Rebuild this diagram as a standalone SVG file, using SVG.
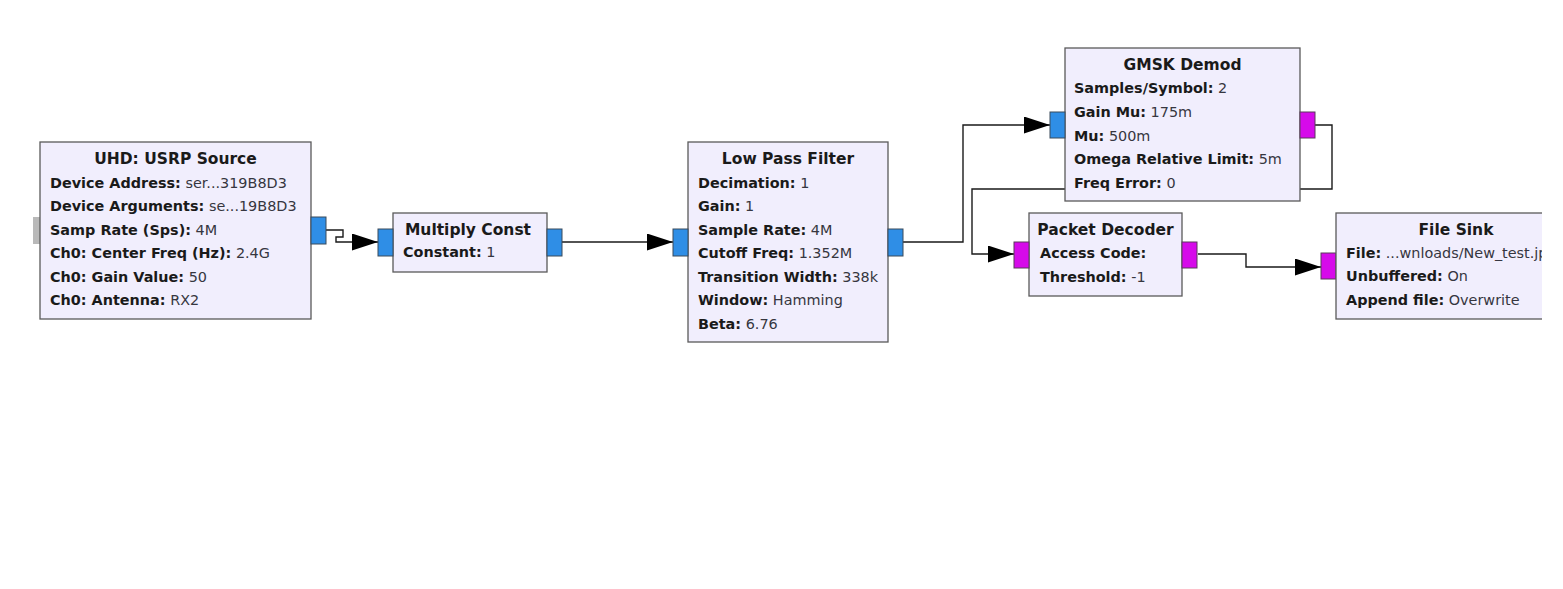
<svg xmlns="http://www.w3.org/2000/svg" width="1563" height="589" viewBox="0 0 1563 589">
  <defs>
    <style>
      .blk { fill: #F1EEFD; stroke: #5a5a5a; stroke-width: 1.3; }
      .pc { fill: #2F8EE6; stroke: #3a4a5a; stroke-width: 1; }
      .pb { fill: #D60AEA; stroke: #5a3a5a; stroke-width: 1; }
      .pm { fill: #B9B9B9; stroke: none; }
      .ttl { font-family: "DejaVu Sans", sans-serif; font-size: 15.5px; font-weight: bold; fill: #1a1a1a; text-anchor: middle; }
      .prm { font-family: "DejaVu Sans", sans-serif; font-size: 14.4px; fill: #363640; }
      .prm .k { font-weight: bold; fill: #1a1a1a; }
      .wire { fill: none; stroke: #1a1a1a; stroke-width: 1.4; }
    </style>
    <marker id="arr" markerUnits="userSpaceOnUse" markerWidth="27" markerHeight="18" refX="26" refY="8.5" orient="auto">
      <path d="M0,0 L26,8.5 L0,17 z" fill="#000"/>
    </marker>
    <clipPath id="viewEdge">
      <rect x="0" y="0" width="1542" height="589"/>
    </clipPath>
  </defs>

  <rect x="0" y="0" width="1563" height="589" fill="#ffffff"/>

  <!-- connections between block ports -->
  <g id="connectors">
    <path class="wire" marker-end="url(#arr)" d="M326,230 H343 V237 H336 V242 H378"/>
    <path class="wire" marker-end="url(#arr)" d="M561,242 H673"/>
    <path class="wire" marker-end="url(#arr)" d="M903,242 H963 V125 H1050"/>
    <path class="wire" marker-end="url(#arr)" d="M1315,125 H1332 V189 H972 V254 H1014"/>
    <path class="wire" marker-end="url(#arr)" d="M1198,254 H1246 V267 H1321"/>
  </g>

  <g id="usrp_source">
    <rect class="pm" x="33" y="217" width="7" height="27"/>
    <rect class="blk" x="40" y="142" width="271" height="177"/>
    <rect class="pc" x="311" y="217" width="15" height="27"/>
    <text class="ttl" x="175.5" y="164">UHD: USRP Source</text>
    <text class="prm" x="50" y="188"><tspan class="k">Device Address:</tspan> ser...319B8D3</text>
    <text class="prm" x="50" y="211"><tspan class="k">Device Arguments:</tspan> se...19B8D3</text>
    <text class="prm" x="50" y="235"><tspan class="k">Samp Rate (Sps):</tspan> 4M</text>
    <text class="prm" x="50" y="258"><tspan class="k">Ch0: Center Freq (Hz):</tspan> 2.4G</text>
    <text class="prm" x="50" y="282"><tspan class="k">Ch0: Gain Value:</tspan> 50</text>
    <text class="prm" x="50" y="305"><tspan class="k">Ch0: Antenna:</tspan> RX2</text>
  </g>

  <g id="multiply_const">
    <rect class="blk" x="393" y="213" width="154" height="59"/>
    <rect class="pc" x="378" y="229" width="15" height="27"/>
    <rect class="pc" x="547" y="229" width="15" height="27"/>
    <text class="ttl" x="468" y="235">Multiply Const</text>
    <text class="prm" x="403" y="257"><tspan class="k">Constant:</tspan> 1</text>
  </g>

  <g id="low_pass_filter">
    <rect class="blk" x="688" y="142" width="200" height="200"/>
    <rect class="pc" x="673" y="229" width="15" height="27"/>
    <rect class="pc" x="888" y="229" width="15" height="27"/>
    <text class="ttl" x="788" y="164">Low Pass Filter</text>
    <text class="prm" x="698" y="188"><tspan class="k">Decimation:</tspan> 1</text>
    <text class="prm" x="698" y="211"><tspan class="k">Gain:</tspan> 1</text>
    <text class="prm" x="698" y="235"><tspan class="k">Sample Rate:</tspan> 4M</text>
    <text class="prm" x="698" y="258"><tspan class="k">Cutoff Freq:</tspan> 1.352M</text>
    <text class="prm" x="698" y="282"><tspan class="k">Transition Width:</tspan> 338k</text>
    <text class="prm" x="698" y="305"><tspan class="k">Window:</tspan> Hamming</text>
    <text class="prm" x="698" y="329"><tspan class="k">Beta:</tspan> 6.76</text>
  </g>

  <g id="gmsk_demod">
    <rect class="blk" x="1065" y="48" width="235" height="153"/>
    <rect class="pc" x="1050" y="112" width="15" height="26"/>
    <rect class="pb" x="1300" y="112" width="15" height="26"/>
    <text class="ttl" x="1182.5" y="70">GMSK Demod</text>
    <text class="prm" x="1074" y="93"><tspan class="k">Samples/Symbol:</tspan> 2</text>
    <text class="prm" x="1074" y="117"><tspan class="k">Gain Mu:</tspan> 175m</text>
    <text class="prm" x="1074" y="141"><tspan class="k">Mu:</tspan> 500m</text>
    <text class="prm" x="1074" y="164"><tspan class="k">Omega Relative Limit:</tspan> 5m</text>
    <text class="prm" x="1074" y="188"><tspan class="k">Freq Error:</tspan> 0</text>
  </g>

  <g id="packet_decoder">
    <rect class="blk" x="1029" y="213" width="153" height="83"/>
    <rect class="pb" x="1014" y="242" width="15" height="26"/>
    <rect class="pb" x="1182" y="242" width="15" height="26"/>
    <text class="ttl" x="1105.5" y="235">Packet Decoder</text>
    <text class="prm" x="1040" y="258"><tspan class="k">Access Code:</tspan></text>
    <text class="prm" x="1040" y="282"><tspan class="k">Threshold:</tspan> -1</text>
  </g>

  <g id="file_sink">
    <rect class="pb" x="1321" y="253" width="15" height="26"/>
    <g clip-path="url(#viewEdge)">
      <rect class="blk" x="1336" y="213" width="240" height="106"/>
      <text class="ttl" x="1456" y="235">File Sink</text>
      <text class="prm" x="1346" y="258"><tspan class="k">File:</tspan> ...wnloads/New_test.jpg</text>
      <text class="prm" x="1346" y="281"><tspan class="k">Unbuffered:</tspan> On</text>
      <text class="prm" x="1346" y="305"><tspan class="k">Append file:</tspan> Overwrite</text>
    </g>
  </g>
</svg>
